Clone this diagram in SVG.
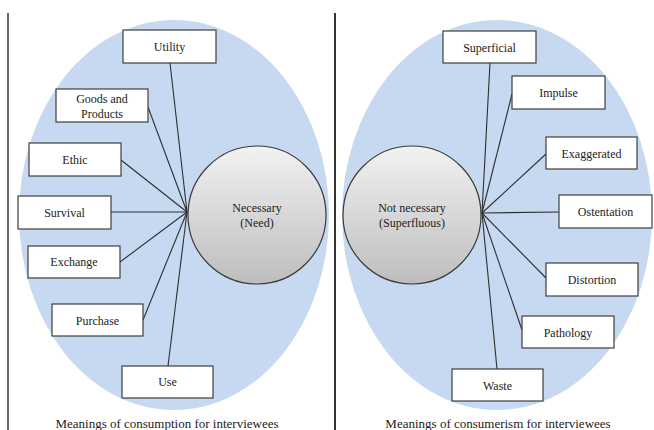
<svg xmlns="http://www.w3.org/2000/svg" width="654" height="430" viewBox="0 0 654 430">
<style>
.bg{fill:#c6d9f0;stroke:none}
.box{fill:#ffffff;stroke:#3f3f3f;stroke-width:1.2}
.hub{fill:url(#g);stroke:#3a3a3a;stroke-width:1.2}
.t{font-family:"Liberation Serif",serif;font-size:12px;fill:#222;text-anchor:middle}
.cap{font-family:"Liberation Serif",serif;font-size:13px;fill:#222;text-anchor:middle}
.c line{stroke:#2f2f2f;stroke-width:1.1}
.div{stroke:#333;stroke-width:1.5}
</style>
<defs>
<linearGradient id="g" x1="0" y1="0" x2="0" y2="1">
<stop offset="0" stop-color="#f2f2f2"/>
<stop offset="1" stop-color="#bdbdbd"/>
</linearGradient>
</defs>
<rect width="654" height="430" fill="#ffffff"/>
<line class="div" x1="8" y1="13" x2="8" y2="430"/>
<line class="div" x1="335" y1="13" x2="335" y2="430" style="stroke-width:2"/>
<ellipse class="bg" cx="174" cy="215" rx="155" ry="195"/>
<ellipse class="bg" cx="497" cy="215" rx="155" ry="195"/>
<g class="c" id="connectors">
<line x1="170" y1="63" x2="187" y2="212"/>
<line x1="148" y1="107" x2="187" y2="212"/>
<line x1="121" y1="160" x2="187" y2="212"/>
<line x1="111" y1="212" x2="187" y2="212"/>
<line x1="120" y1="262" x2="187" y2="212"/>
<line x1="143" y1="320" x2="187" y2="212"/>
<line x1="168" y1="366" x2="187" y2="212"/>
<line x1="490" y1="63" x2="482" y2="213"/>
<line x1="512" y1="94" x2="482" y2="213"/>
<line x1="546" y1="154" x2="482" y2="213"/>
<line x1="559" y1="212" x2="482" y2="213"/>
<line x1="546" y1="278" x2="482" y2="213"/>
<line x1="522" y1="330" x2="482" y2="213"/>
<line x1="497" y1="369" x2="482" y2="213"/>
</g>
<g id="necessary"><circle class="hub" cx="257" cy="215" r="69"/><text class="t" x="257" y="212">Necessary</text><text class="t" x="257" y="227">(Need)</text></g>
<g id="notnecessary"><circle class="hub" cx="412" cy="215" r="69"/><text class="t" x="412" y="212">Not necessary</text><text class="t" x="412" y="227">(Superfluous)</text></g>
<g id="utility"><rect class="box" x="123" y="30" width="93" height="33"/><text class="t" x="169.5" y="51">Utility</text></g>
<g id="goods"><rect class="box" x="56" y="89" width="92" height="33"/><text class="t" x="102" y="103">Goods and</text><text class="t" x="102" y="118">Products</text></g>
<g id="ethic"><rect class="box" x="29" y="143" width="92" height="33"/><text class="t" x="75" y="164">Ethic</text></g>
<g id="survival"><rect class="box" x="18" y="196" width="93" height="33"/><text class="t" x="64.5" y="217">Survival</text></g>
<g id="exchange"><rect class="box" x="28" y="246" width="92" height="32"/><text class="t" x="74" y="266">Exchange</text></g>
<g id="purchase"><rect class="box" x="52" y="304" width="91" height="32"/><text class="t" x="97.5" y="325">Purchase</text></g>
<g id="use"><rect class="box" x="122" y="366" width="91" height="32"/><text class="t" x="167.5" y="386">Use</text></g>
<g id="superficial"><rect class="box" x="443" y="31" width="93" height="32"/><text class="t" x="489.5" y="52">Superficial</text></g>
<g id="impulse"><rect class="box" x="512" y="76" width="93" height="33"/><text class="t" x="558.5" y="97">Impulse</text></g>
<g id="exaggerated"><rect class="box" x="546" y="137" width="91" height="32"/><text class="t" x="591.5" y="158">Exaggerated</text></g>
<g id="ostentation"><rect class="box" x="559" y="195" width="93" height="33"/><text class="t" x="605.5" y="216">Ostentation</text></g>
<g id="distortion"><rect class="box" x="546" y="263" width="92" height="33"/><text class="t" x="592" y="284">Distortion</text></g>
<g id="pathology"><rect class="box" x="522" y="316" width="92" height="32"/><text class="t" x="568" y="337">Pathology</text></g>
<g id="waste"><rect class="box" x="452" y="369" width="91" height="32"/><text class="t" x="497.5" y="390">Waste</text></g>
<text class="cap" x="167" y="428">Meanings of consumption  for interviewees</text>
<text class="cap" x="498" y="428">Meanings of consumerism  for interviewees</text>
</svg>
